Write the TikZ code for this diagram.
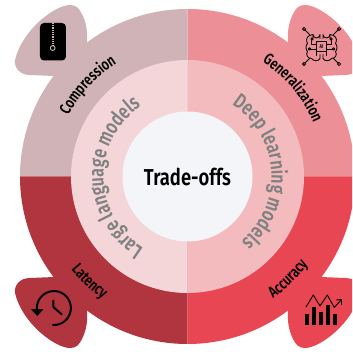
\documentclass[tikz,border=0pt]{standalone}
\usepackage{fontspec}
\usetikzlibrary{decorations.text}
\setmainfont{Fira Sans}
\newfontfamily\lab[FakeStretch=0.76]{Fira Sans SemiBold}
\newfontfamily\labb[FakeStretch=0.8]{Fira Sans SemiBold}
\definecolor{cTL}{HTML}{D0B3B6}
\definecolor{cTR}{HTML}{EC8F96}
\definecolor{cBL}{HTML}{B0353F}
\definecolor{cBR}{HTML}{E94653}
\definecolor{iTL}{HTML}{F4D5D8}
\definecolor{iTR}{HTML}{F4BBBE}
\definecolor{hub}{HTML}{F3F5F8}
\definecolor{greytxt}{HTML}{7F8181}
\newcommand{\sector}[4]{\fill[#1] (0,0) -- (#2:#4) arc[start angle=#2,end angle=#3,radius=#4] -- cycle;}
\newcommand{\petalshape}[1]{\fill[#1] (87,43) .. controls (88,32) and (86,22) .. (82,14) .. controls (79,8) and (76,5) .. (70,5) .. controls (55,5) and (22,30) .. (15,60) .. controls (14,68) and (20,75) .. (30,75) -- (54,76) -- (100,100) -- cycle;}
\newcommand{\arclabel}[5]{\path[decorate,decoration={text along path,text align=center,text={|#5|#4}}] (#1:#3) arc[start angle=#1,end angle=#2,radius=#3];}
\tikzset{
  page/.style={shift={(-187.5,176.5)},yscale=-1},
  ico/.style={black,line width=1.3pt,line cap=round,line join=round},
  tiny/.style={ico,line width=0.85pt}
}
\begin{document}
\begin{tikzpicture}[x=1pt,y=1pt]
\useasboundingbox (-187.5,-175.5) rectangle (164.5,176.5);
\begin{scope}
\clip (-187.5,-175.5) rectangle (164.5,176.5);
\begin{scope}[page]\petalshape{cTL}\end{scope}
\begin{scope}[xscale=-1]\begin{scope}[page]\petalshape{cTR}\end{scope}\end{scope}
\begin{scope}[yscale=-1]\begin{scope}[page]\petalshape{cBL}\end{scope}\end{scope}
\begin{scope}[xscale=-1,yscale=-1]\begin{scope}[page]\petalshape{cBR}\end{scope}\end{scope}
\sector{cTR}{0}{90}{167.5}
\sector{cTL}{90}{180}{167.5}
\sector{cBL}{180}{270}{167.5}
\sector{cBR}{270}{360}{167.5}
\sector{iTR}{-90}{90}{116.5}
\sector{iTL}{90}{270}{116.5}
\fill[hub] (0,0) circle[radius=65];
\end{scope}
\node[font=\labb\fontsize{23}{23}\selectfont] (hubtext) at (0,-0.5) {Trade-offs};
\arclabel{227.5}{47.5}{133.5}{Compression}{\lab\fontsize{16}{16}\selectfont}
\arclabel{130}{-50}{137}{Generalization}{\lab\fontsize{16}{16}\selectfont}
\arclabel{137}{317}{149}{Latency}{\lab\fontsize{16}{16}\selectfont}
\arclabel{224.5}{404.5}{149}{Accuracy}{\lab\fontsize{16}{16}\selectfont}
\arclabel{271}{91}{84}{Large language models}{\color{greytxt}\lab\fontsize{21}{21}\selectfont}
\arclabel{94}{-86}{84}{Deep learning models}{\color{greytxt}\lab\fontsize{21}{21}\selectfont}
\begin{scope}[page]
% zip
\fill[black,rounded corners=4] (40,23) rectangle (66,60.5);
\draw[cTL,line width=2pt,dash pattern=on 0.9pt off 0.9pt] (52.7,23) -- (52.7,45);
\draw[cTL,line width=0.9pt] (52.7,48) circle[radius=2.4];
% clock
\draw[ico,line width=2pt] (53,325) arc[start angle=93,end angle=-190,radius=17];
\fill[black] (31,309) -- (43.5,309) -- (37.3,316) -- cycle;
\draw[ico,line width=2pt] (53.3,300.5) -- (53.3,307) -- (61.7,314.3);
% chart
\fill[black] (305,313.5) rectangle (309,325);
\fill[black] (312,307) rectangle (316,325);
\fill[black] (318.5,312) rectangle (322.5,325);
\fill[black] (325.5,304.5) rectangle (330,325);
\fill[black] (332.5,313.5) rectangle (337,325);
\draw[ico,line width=0.9pt] (306,307) -- (313.3,295) -- (320,306) -- (327.3,295) -- (334.3,307.5) -- (341,300);
\draw[ico,line width=0.9pt] (336.5,300) -- (341.5,299.5) -- (341.5,304.5);
\end{scope}
% brain icon
\begin{scope}[page]
\begin{scope}[shift={(321.5,46.5)}]
\draw[tiny] (-5,-5) rectangle (5,5);
\node[font=\lab\fontsize{5.5}{5.5}\selectfont,inner sep=0pt] (ai) at (0,0) {AI};
\foreach \s in {-1,1}{
  \begin{scope}[xscale=\s]
  \draw[tiny] (1.5,-8) -- (1.5,-12) arc[start angle=180,end angle=0,radius=3.5] -- (8.5,-9);
  \draw[tiny] (8.5,-12) -- (12,-11);
  \draw[tiny] (12,-11) .. controls (16,-9) and (15,-5) .. (14,-3) .. controls (16,-1) and (16,3) .. (14,5) .. controls (16,8) and (14,12) .. (10,12) .. controls (8,15) and (3,15) .. (1.5,12) -- (1.5,8);
  \draw[tiny] (5,-2) -- (10,-2) -- (10,-6);
  \draw[tiny] (5,2.5) -- (11,2.5);
  \draw[tiny] (5,9) -- (5,5);
  \draw[tiny] (12,-12) -- (16.5,-16.5);
  \draw[tiny] (12,12) -- (16.5,16.5);
  \draw[tiny] (17.5,-17.5) circle[radius=1.6];
  \draw[tiny] (17.5,17.5) circle[radius=1.6];
  \draw[tiny] (9.5,-7.5) circle[radius=1.2];
  \draw[tiny] (12,2.5) circle[radius=1.2];
  \end{scope}
}
\end{scope}
\end{scope}
\end{tikzpicture}
\end{document}
